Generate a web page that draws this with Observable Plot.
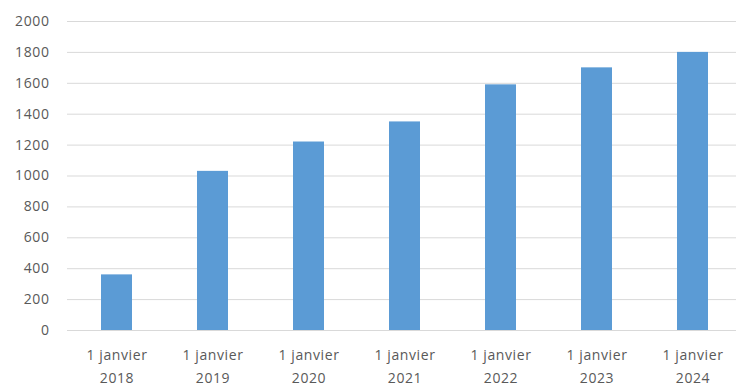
<!DOCTYPE html>
<html>
<head>
<meta charset="utf-8">
<script src="https://cdn.jsdelivr.net/npm/d3@7"></script>
<script src="https://cdn.jsdelivr.net/npm/@observablehq/plot@0.6"></script>
<style>
  html, body { margin: 0; padding: 0; background: #fff; overflow: hidden; }
  #chart svg { display: block; }
</style>
</head>
<body>
<div id="chart"></div>
<script>
const years = ["2018", "2019", "2020", "2021", "2022", "2023", "2024"];
const values = [360, 1030, 1220, 1350, 1590, 1700, 1800];
const yTicks = [0, 200, 400, 600, 800, 1000, 1200, 1400, 1600, 1800, 2000];
const labelPrefix = "1 janvier";

const data = years.map((y, i) => ({year: y, value: values[i]}));

const chart = Plot.plot({
  width: 736,
  height: 387,
  marginLeft: 67,
  marginRight: -6,
  marginTop: 21,
  marginBottom: 57,
  style: {fontFamily: "'Open Sans', sans-serif", fontSize: "14px", color: "#595959", background: "#fff", letterSpacing: "0.6px"},
  x: {domain: years, paddingInner: 0.68, paddingOuter: 0.34, label: null},
  y: {domain: [0, 2000], label: null},
  marks: [
    Plot.gridY(yTicks, {stroke: "#d9d9d9", strokeOpacity: 1, strokeWidth: 1}),
    Plot.barY(data, {x: "year", y: "value", fill: "#5b9bd5"}),
    Plot.axisY(yTicks, {tickSize: 0, tickPadding: 18, fill: "#595959", tickFormat: d => String(d), label: null}),
    Plot.axisX({tickSize: 0, tickPadding: 14, fill: "#595959", lineHeight: 1.6, tickFormat: d => labelPrefix + "\n" + d, label: null})
  ]
});
document.getElementById("chart").append(chart);
</script>
</body>
</html>
